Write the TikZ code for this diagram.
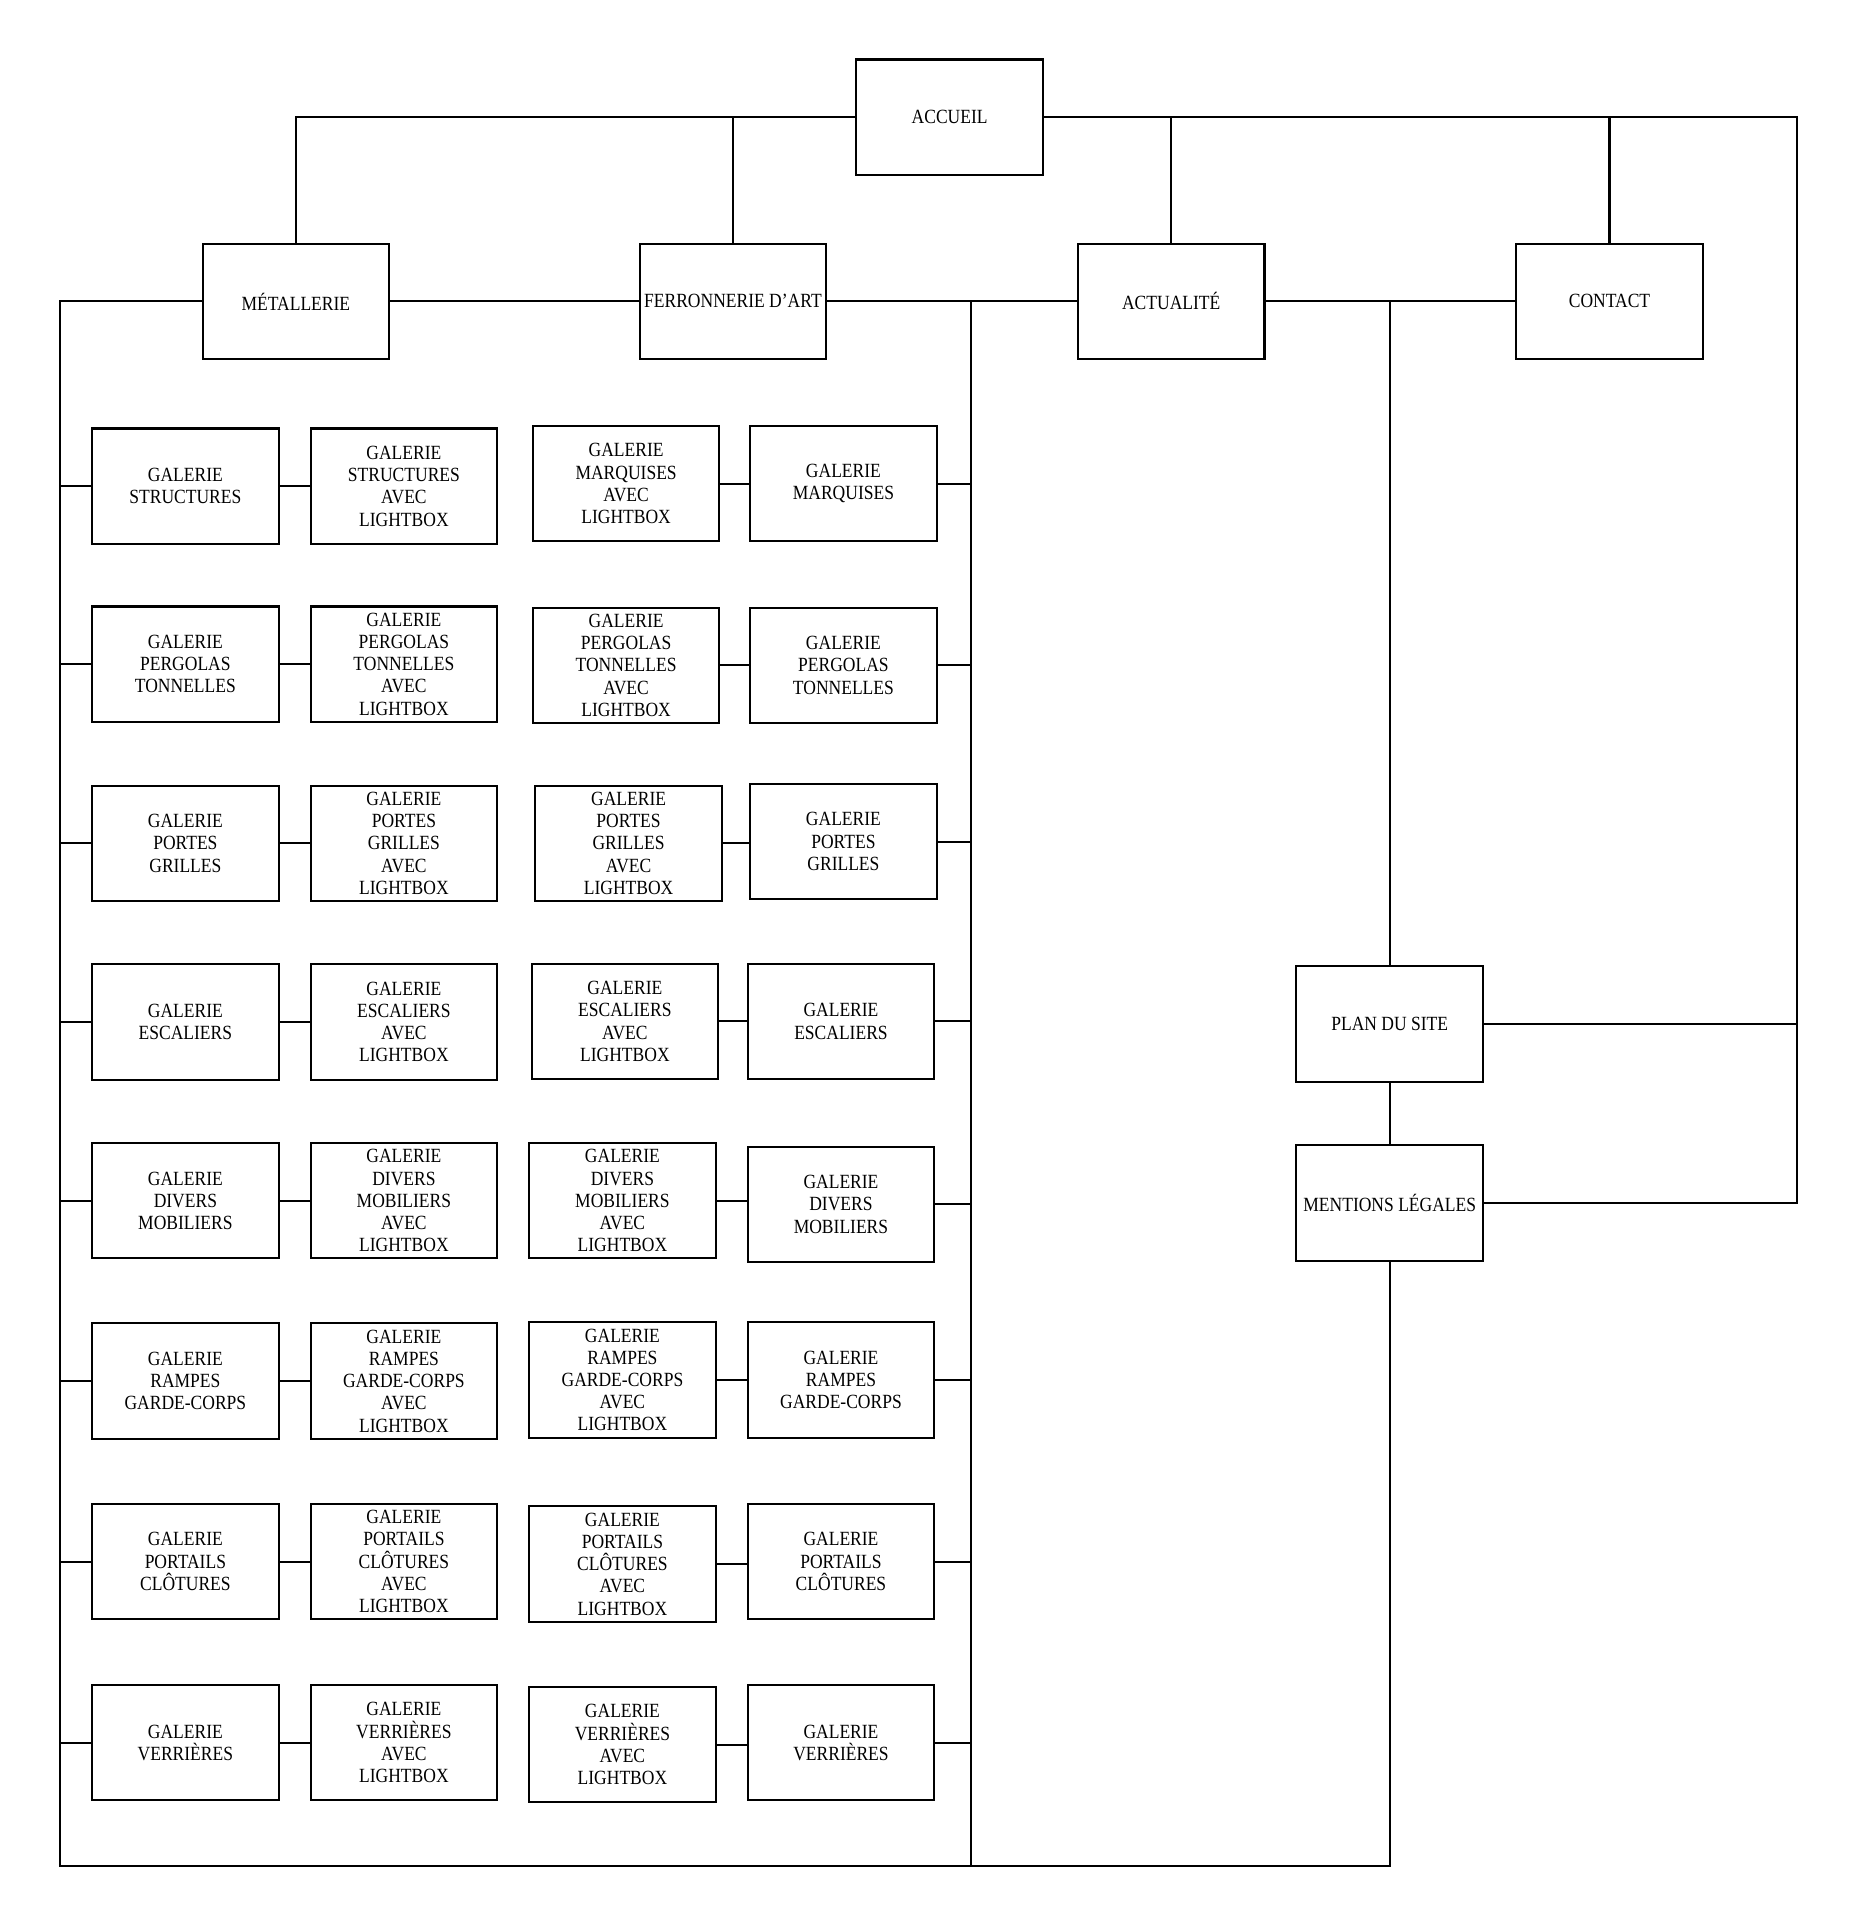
\documentclass[tikz,border=0pt]{standalone}
\usepackage{fontspec}
\setmainfont{Liberation Serif}[FakeStretch=0.87]
\begin{document}
\begin{tikzpicture}[x=0.5pt,y=-0.5pt,line width=0.85pt,
    box/.style={draw, minimum width=76pt, minimum height=47pt, inner sep=0.5pt,
      align=center, font=\fontsize{8.2pt}{9.05pt}\selectfont}]
    \useasboundingbox (0,0) rectangle (1515,1568);

    % Main menu
    \node[box] (accueil) at (773.5,95.5) {ACCUEIL};
    \node[box] (metal) at (241,245.5) {MÉTALLERIE};
    \node[box] (ferro) at (597,245.5) {FERRONNERIE D’ART};
    \node[box] (actu) at (954,245.5) {ACTUALITÉ};
    \node[box] (contact) at (1311,245.5) {CONTACT};
    \node[box] (plan) at (1132,834) {PLAN DU SITE};
    \node[box] (mentions) at (1132,980) {MENTIONS LÉGALES};

    % Trunk lines
    \coordinate (trunkL) at (49,1520);
    \coordinate (trunkM) at (791,1520);
    \coordinate (trunkR) at (1132,1520);
    \coordinate (edgeR) at (1464,980);

    \draw (accueil.west) -| (metal.north);
    \draw (accueil.west -| ferro.north) -- (ferro.north);
    \draw (accueil.east) -| (edgeR) -- (mentions.east);
    \draw (accueil.east -| actu.north) -- (actu.north);
    \draw (accueil.east -| contact.north) -- (contact.north);
    \draw (metal.east) -- (ferro.west);
    \draw (ferro.east) -- (actu.west);
    \draw (actu.east) -- (contact.west);
    \draw (metal.west) -| (trunkL) -- (trunkR) -- (mentions.south);
    \draw (ferro.east -| trunkM) -- (trunkM);
    \draw (actu.east -| plan.north) -- (plan.north);
    \draw (plan.south) -- (mentions.north);
    \draw (plan.east) -- (plan.east -| edgeR);

    % Galleries, one row each
    \foreach \ya/\xc/\yc/\xd/\yd/\ta/\tc [count=\i] in {
        396/510/394/687/394/{STRUCTURES}/{MARQUISES},
        541/510/542/687/542/{PERGOLAS\\TONNELLES}/{PERGOLAS\\TONNELLES},
        687/512/687/687/685.5/{PORTES\\GRILLES}/{PORTES\\GRILLES},
        832.5/509/832/685/832/{ESCALIERS}/{ESCALIERS},
        978/507/978/685/981/{DIVERS\\MOBILIERS}/{DIVERS\\MOBILIERS},
        1125/507/1124/685/1124/{RAMPES\\GARDE-CORPS}/{RAMPES\\GARDE-CORPS},
        1272/507/1274/685/1272/{PORTAILS\\CLÔTURES}/{PORTAILS\\CLÔTURES},
        1419.5/507/1421/685/1419.5/{VERRIÈRES}/{VERRIÈRES}} {
      \node[box] (a\i) at (151,\ya) {GALERIE\\\ta};
      \node[box] (b\i) at (329,\ya) {GALERIE\\\ta\\AVEC\\LIGHTBOX};
      \node[box] (c\i) at (\xc,\yc) {GALERIE\\\tc\\AVEC\\LIGHTBOX};
      \node[box] (d\i) at (\xd,\yd) {GALERIE\\\tc};
      \draw (a\i.west) -- (a\i.west -| trunkL);
      \draw (a\i.east) -- (b\i.west);
      \draw (c\i.east) -- (c\i.east -| d\i.west);
      \draw (d\i.east) -- (d\i.east -| trunkM);
    }
\end{tikzpicture}
\end{document}
